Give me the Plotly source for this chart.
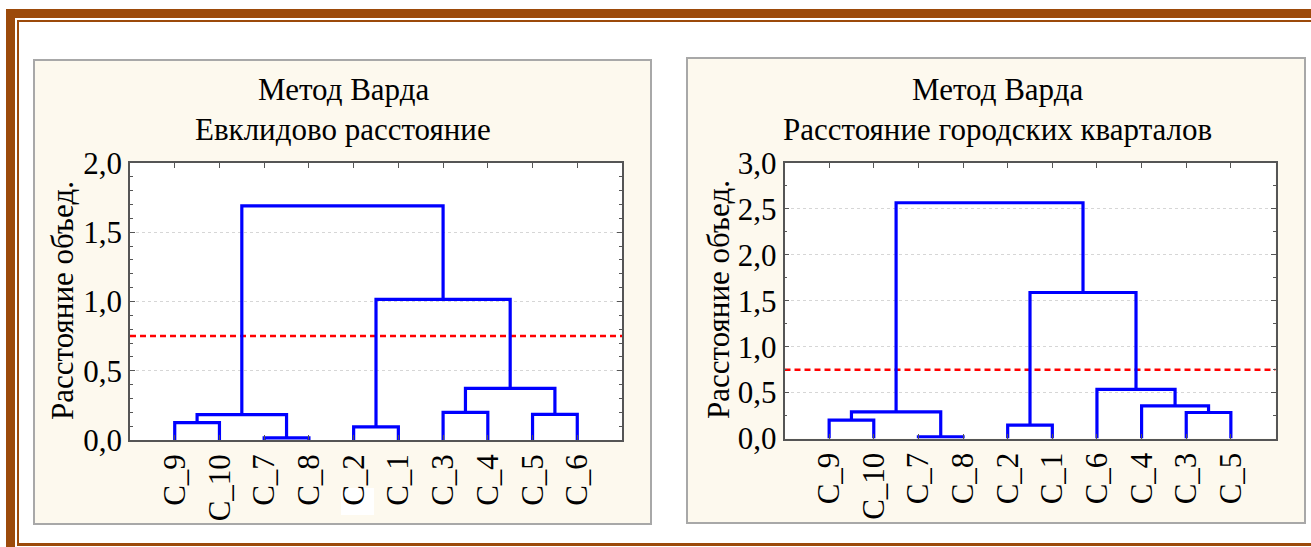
import plotly.graph_objects as go

# ---- dendrogram data (Ward linkage) ----
# Left: Euclidean distance
leaves_left = ["C_9", "C_10", "C_7", "C_8", "C_2", "C_1", "C_3", "C_4", "C_5", "C_6"]
# each merge joins two nodes (0..9 are leaves, 10+k is the k-th merge)
merge_a_left = [0, 2, 10, 4, 6, 8, 14, 13, 12]
merge_b_left = [1, 3, 11, 5, 7, 9, 15, 16, 17]
merge_h_left = [0.125, 0.015, 0.183, 0.095, 0.20, 0.185, 0.373, 1.016, 1.69]

# Right: city-block (Manhattan) distance
leaves_right = ["C_9", "C_10", "C_7", "C_8", "C_2", "C_1", "C_6", "C_4", "C_3", "C_5"]
merge_a_right = [0, 2, 10, 4, 8, 7, 6, 13, 12]
merge_b_right = [1, 3, 11, 5, 9, 14, 15, 16, 17]
merge_h_right = [0.20, 0.018, 0.29, 0.145, 0.283, 0.355, 0.534, 1.59, 2.567]

cut_level = 0.75

titles_left = ["Метод Варда", "Евклидово расстояние"]
titles_right = ["Метод Варда", "Расстояние городских кварталов"]
y_title = "Расстояние объед."

W, H = 1311, 547
FONT = "Liberation Serif, Times New Roman, serif"
BLUE = "#0000FF"
BROWN = "#9C4A0A"
BEIGE = "#FDF9EE"
AXIS = "#555555"


def px(x):
    return x / W


def py(y):
    return 1 - y / H


def dendro_paths(n_leaves, a, b, h):
    """Return x/y lists (None-separated) for the U-shaped links."""
    pos = {i: i + 1.0 for i in range(n_leaves)}
    height = {i: 0.0 for i in range(n_leaves)}
    xs, ys = [], []
    for k, (i, j, hh) in enumerate(zip(a, b, h)):
        xi, xj = pos[i], pos[j]
        xs += [xi, xi, xj, xj, None]
        ys += [height[i], hh, hh, height[j], None]
        node = n_leaves + k
        pos[node] = (xi + xj) / 2
        height[node] = hh
    return xs, ys


fig = go.Figure()

for idx, (leaves, a, b, h) in enumerate([
    (leaves_left, merge_a_left, merge_b_left, merge_h_left),
    (leaves_right, merge_a_right, merge_b_right, merge_h_right),
]):
    xr = "x" if idx == 0 else "x2"
    yr = "y" if idx == 0 else "y2"
    xs, ys = dendro_paths(len(leaves), a, b, h)
    fig.add_trace(go.Scatter(x=[0, len(leaves) + 1], y=[cut_level, cut_level],
                             mode="lines", xaxis=xr, yaxis=yr,
                             line=dict(color="#FF0000", width=2.5, dash="6px,4px"),
                             hoverinfo="skip", showlegend=False))
    fig.add_trace(go.Scatter(x=xs, y=ys, mode="lines", xaxis=xr, yaxis=yr,
                             line=dict(color=BLUE, width=3.2),
                             hoverinfo="skip", showlegend=False))

tick_font = dict(family=FONT, size=31, color="black")

common_x = dict(range=[0, 11], showline=True, linecolor=AXIS, linewidth=1.5,
                mirror="ticks", ticks="inside", ticklen=5, tickcolor=AXIS,
                tickangle=-90, tickfont=tick_font, showgrid=False,
                zeroline=False, fixedrange=True, automargin=False)
common_y = dict(showline=True, linecolor=AXIS, linewidth=1.5, mirror="ticks",
                ticks="inside", ticklen=5, tickcolor=AXIS, tickformat=".1f",
                tickfont=tick_font, showgrid=True, gridcolor="#D6D6D6",
                griddash="dot", gridwidth=1, zeroline=False, fixedrange=True,
                automargin=False)

fig.update_layout(
    template="none",
    width=W, height=H,
    autosize=False,
    margin=dict(l=0, r=0, t=0, b=0, pad=0),
    paper_bgcolor="white", plot_bgcolor="white",
    separators=", ",
    showlegend=False,
    xaxis=dict(common_x, domain=[px(130), px(622)],
               tickvals=list(range(1, len(leaves_left) + 1)), ticktext=leaves_left,
               anchor="y"),
    yaxis=dict(common_y, domain=[py(440), py(163)], range=[0, 2.0], dtick=0.5,
               minor=dict(dtick=0.1, ticks="inside", ticklen=3, tickcolor=AXIS,
                          showgrid=False),
               anchor="x"),
    xaxis2=dict(common_x, domain=[px(784.5), px(1275.5)],
                tickvals=list(range(1, len(leaves_right) + 1)), ticktext=leaves_right,
                anchor="y2"),
    yaxis2=dict(common_y, domain=[py(438.5), py(163)], range=[0, 3.0], dtick=0.5,
                minor=dict(dtick=0.25, ticks="inside", ticklen=3, tickcolor=AXIS,
                           showgrid=False),
                anchor="x2"),
)

shapes = []
# outer brown frame
shapes.append(dict(type="rect", xref="paper", yref="paper", x0=px(6), x1=px(15),
                   y0=py(547), y1=py(9), fillcolor=BROWN, line_width=0, layer="below"))
shapes.append(dict(type="rect", xref="paper", yref="paper", x0=px(6), x1=px(1311),
                   y0=py(18), y1=py(9), fillcolor=BROWN, line_width=0, layer="below"))
shapes.append(dict(type="rect", xref="paper", yref="paper", x0=px(17), x1=px(19),
                   y0=py(546), y1=py(20), fillcolor=BROWN, line_width=0, layer="below"))
shapes.append(dict(type="rect", xref="paper", yref="paper", x0=px(17), x1=px(1311),
                   y0=py(22), y1=py(20), fillcolor=BROWN, line_width=0, layer="below"))
shapes.append(dict(type="rect", xref="paper", yref="paper", x0=px(17), x1=px(1311),
                   y0=py(546), y1=py(543), fillcolor=BROWN, line_width=0, layer="below"))

# beige panels
for (x0, x1, y0, y1) in [(34, 651, 60, 524), (687, 1305, 58, 523)]:
    shapes.append(dict(type="rect", xref="paper", yref="paper",
                       x0=px(x0), x1=px(x1), y0=py(y1), y1=py(y0),
                       fillcolor=BEIGE, line=dict(color="#A8A8A8", width=2),
                       layer="below"))

# white label backing under one category label
shapes.append(dict(type="rect", xref="paper", yref="paper",
                   x0=px(341), x1=px(374), y0=py(515), y1=py(488),
                   fillcolor="white", line_width=0, layer="below"))

# white plotting areas
for xr, yr in [("x", "y"), ("x2", "y2")]:
    shapes.append(dict(type="rect", xref=f"{xr} domain", yref=f"{yr} domain",
                       x0=0, x1=1, y0=0, y1=1, fillcolor="white", line_width=0,
                       layer="below"))

fig.update_layout(shapes=shapes)

title_font = dict(family=FONT, size=31, color="black")
ann = []
for cx, lines in [(343, titles_left), (997, titles_right)]:
    ann.append(dict(text=lines[0], x=px(cx), y=py(90), xref="paper", yref="paper",
                    showarrow=False, font=title_font, xanchor="center", yanchor="middle"))
    ann.append(dict(text=lines[1], x=px(cx), y=py(129), xref="paper", yref="paper",
                    showarrow=False, font=title_font, xanchor="center", yanchor="middle"))
for cx, cy in [(62, 301), (718, 300)]:
    ann.append(dict(text=y_title, x=px(cx), y=py(cy), xref="paper", yref="paper",
                    showarrow=False, font=title_font, textangle=-90,
                    xanchor="center", yanchor="middle"))
fig.update_layout(annotations=ann)

fig.write_html("out.html")
